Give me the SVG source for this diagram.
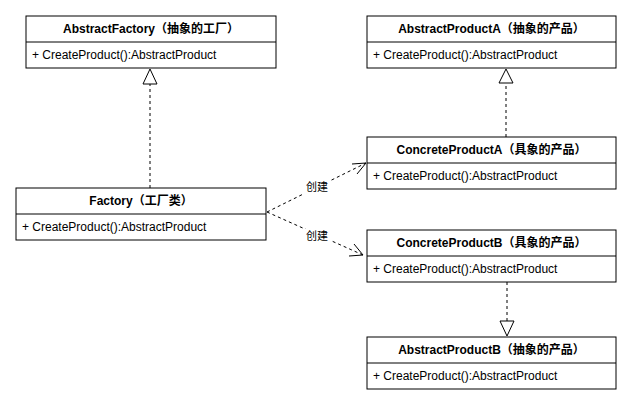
<svg xmlns="http://www.w3.org/2000/svg" width="633" height="408" viewBox="0 0 633 408">
<style>
.box{fill:#fff;stroke:#000;stroke-width:1}
.t{font-family:"Liberation Sans","Noto Sans CJK SC",sans-serif;font-size:12px;font-weight:bold;text-anchor:middle;fill:#000}
.m{font-family:"Liberation Sans","Noto Sans CJK SC",sans-serif;font-size:12px;fill:#000}
.dash{fill:none;stroke:#000;stroke-width:1;stroke-dasharray:3 3}
.tri{fill:#fff;stroke:#000;stroke-width:1}
.open{fill:none;stroke:#000;stroke-width:1}
.lbl{font-family:"Liberation Sans","Noto Sans CJK SC",sans-serif;font-size:11px;text-anchor:middle;fill:#000}
</style>
<rect width="633" height="408" fill="#fff"/>
<g id="connectors">
<line class="dash" x1="150" y1="188" x2="150" y2="84"/>
<polygon class="tri" points="150,69 143,84 157,84"/>
<line class="dash" x1="506" y1="137" x2="506" y2="83"/>
<polygon class="tri" points="506,69 499,83 513,83"/>
<line class="dash" x1="507" y1="282" x2="507" y2="321"/>
<polygon class="tri" points="507,336 500,321 514,321"/>
<path class="dash" d="M267,212 L366,163"/>
<path class="open" d="M352,164 L366,163 L357,174"/>
<path class="dash" d="M267,212 L363,255"/>
<path class="open" d="M354,244 L363,255 L349,256"/>
<rect x="303" y="180" width="28" height="14" fill="#fff"/>
<text class="lbl" x="317" y="191">创建</text>
<rect x="303" y="229" width="28" height="14" fill="#fff"/>
<text class="lbl" x="317" y="240">创建</text>
</g>
<g id="AbstractFactory">
<rect class="box" x="26" y="16" width="250" height="52"/>
<line class="box" x1="26" y1="42" x2="276" y2="42"/>
<text class="t" x="151" y="33">AbstractFactory（抽象的工厂）</text>
<text class="m" x="32" y="59">+ CreateProduct():AbstractProduct</text>
</g>
<g id="Factory">
<rect class="box" x="16" y="188" width="250" height="52"/>
<line class="box" x1="16" y1="214" x2="266" y2="214"/>
<text class="t" x="141" y="205">Factory（工厂类）</text>
<text class="m" x="22" y="231">+ CreateProduct():AbstractProduct</text>
</g>
<g id="AbstractProductA">
<rect class="box" x="367" y="16" width="249" height="52"/>
<line class="box" x1="367" y1="42" x2="616" y2="42"/>
<text class="t" x="491.5" y="33">AbstractProductA（抽象的产品）</text>
<text class="m" x="373" y="59">+ CreateProduct():AbstractProduct</text>
</g>
<g id="ConcreteProductA">
<rect class="box" x="367" y="137" width="249" height="52"/>
<line class="box" x1="367" y1="163" x2="616" y2="163"/>
<text class="t" x="491.5" y="154">ConcreteProductA（具象的产品）</text>
<text class="m" x="373" y="180">+ CreateProduct():AbstractProduct</text>
</g>
<g id="ConcreteProductB">
<rect class="box" x="367" y="230" width="249" height="52"/>
<line class="box" x1="367" y1="256" x2="616" y2="256"/>
<text class="t" x="491.5" y="247">ConcreteProductB（具象的产品）</text>
<text class="m" x="373" y="273">+ CreateProduct():AbstractProduct</text>
</g>
<g id="AbstractProductB">
<rect class="box" x="367" y="337" width="249" height="52"/>
<line class="box" x1="367" y1="363" x2="616" y2="363"/>
<text class="t" x="491.5" y="354">AbstractProductB（抽象的产品）</text>
<text class="m" x="373" y="380">+ CreateProduct():AbstractProduct</text>
</g>
</svg>
